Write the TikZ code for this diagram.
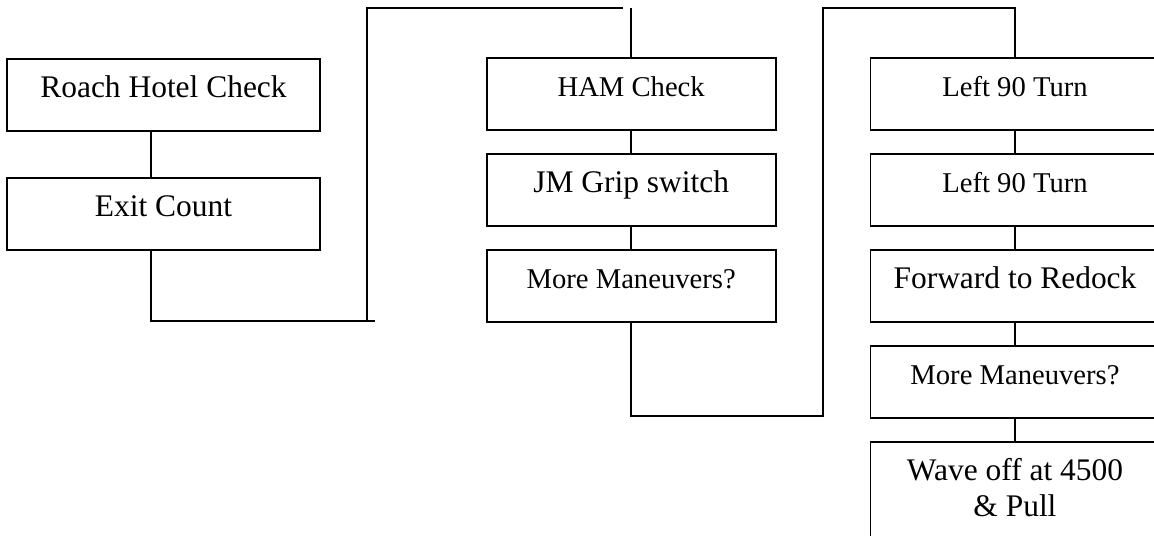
\documentclass[tikz,border=0pt]{standalone}
\usepackage{fontspec}
\setmainfont{Liberation Serif}
\usepackage{tikz}
\usetikzlibrary{positioning}

\newcommand{\boxfontL}{\fontsize{17.9}{20.5}\selectfont}
\newcommand{\boxfontS}{\fontsize{16.3}{19}\selectfont}

\tikzset{
    stepbox/.style={draw, line width=1pt, inner sep=0pt, anchor=north,
        minimum width=5.78cm, text height=0.77cm, text depth=0.67cm, font=\boxfontL},
    widebox/.style={stepbox, minimum width=6.26cm},
    smallbox/.style={stepbox, font=\boxfontS},
    link/.style={line width=1pt}
}

\begin{document}
\begin{tikzpicture}[x={(0.02cm,0)}, y={(0,-0.02cm)}]
        \useasboundingbox (0,0) rectangle (1154,535);
        \clip (0,0) rectangle (1154,535);
        % first column
        \node[widebox] (roach) at (163.5,58) {Roach Hotel Check};
        \node[widebox] (exit) at (163.5,177) {Exit Count};
        % second column
        \node[smallbox] (ham) at (631.2,57) {HAM Check};
        \node[stepbox] (grip) at (631.2,153) {JM Grip switch};
        \node[smallbox] (more1) at (631.2,249) {More Maneuvers?};
        % third column
        \node[smallbox] (left1) at (1015,57) {Left 90 Turn};
        \node[smallbox] (left2) at (1015,153) {Left 90 Turn};
        \node[stepbox] (fwd) at (1015,249) {Forward to Redock};
        \node[smallbox] (more2) at (1015,345) {More Maneuvers?};
        \node[stepbox, text depth=1.5cm] (wave) at (1015,441)
            {\begin{tabular}[t]{@{}c@{}}Wave off at 4500\\ \& Pull\end{tabular}};

        \coordinate (tail1) at (375,321);
        \coordinate (turn1) at (367,321);
        \coordinate (top1) at (623,8);
        \coordinate (turn2) at (823,416);
        \coordinate (top2) at (1015,8);

        \draw[link] ([xshift=-0.25cm]roach.south) -- ([xshift=-0.25cm]exit.north);
        \draw[link] ([xshift=-0.25cm]exit.south) |- (tail1);
        \draw[link] (turn1) |- (top1);
        \draw[link] (ham.north) -- (ham.north |- top1);
        \draw[link] (ham) -- (grip);
        \draw[link] (grip) -- (more1);
        \draw[link] (more1.south) |- (turn2) |- (top2) -- (left1.north);
        \draw[link] (left1) -- (left2);
        \draw[link] (left2) -- (fwd);
        \draw[link] (fwd) -- (more2);
        \draw[link] (more2) -- (wave);
    \end{tikzpicture}
\end{document}
